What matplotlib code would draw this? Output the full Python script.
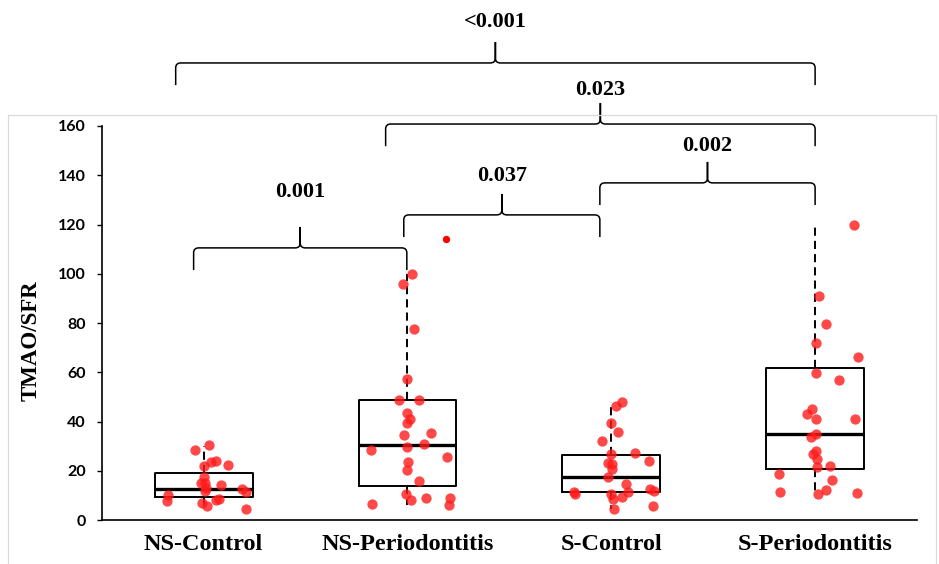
import matplotlib
matplotlib.use("Agg")
import matplotlib.pyplot as plt
from matplotlib.path import Path
from matplotlib.patches import PathPatch, Rectangle

# categorias y estadisticos de caja
grupos = ['NS-Control', 'NS-Periodontitis', 'S-Control', 'S-Periodontitis']
bigote_inf = [4.6, 6.0, 4.6, 10.4]
q1 = [9.5, 13.8, 11.2, 20.8]
mediana = [12.7, 30.6, 17.5, 34.8]
q3 = [19.2, 48.6, 26.4, 61.9]
bigote_sup = [30.2, 100.0, 47.8, 119.8]

# puntos individuales (valor) y su desplazamiento horizontal (jitter)
ns_control = [28.4, 30.3, 21.9, 23.4, 23.8, 22.2, 17.6, 15.2, 14.9, 14.3, 11.9,
              12.5, 11.4, 10.2, 7.8, 6.9, 5.6, 8.2, 8.7, 4.6, 13.2]
ns_control_jit = [-0.04, 0.025, 0.0, 0.035, 0.06, 0.12, 0.0, -0.015, 0.005, 0.087, 0.005,
                  0.19, 0.21, -0.173, -0.178, -0.01, 0.018, 0.059, 0.075, 0.21, 0.01]

ns_perio = [99.9, 95.8, 77.6, 57.1, 48.7, 48.7, 43.3, 41.1, 39.5, 34.5, 35.2, 29.8,
            30.9, 28.4, 25.7, 23.6, 20.3, 16.0, 10.4, 8.1, 9.1, 6.4, 8.8, 6.0]
ns_perio_jit = [0.021, -0.02, 0.033, 0.0, -0.043, 0.057, 0.0, 0.011, 0.0, -0.015, 0.116, 0.0,
                0.08, -0.178, 0.195, 0.005, 0.0, 0.057, -0.008, 0.015, 0.093, -0.175, 0.211, 0.206]

s_control = [47.8, 46.2, 39.3, 35.9, 32.2, 26.7, 27.1, 24.0, 23.3, 22.7, 20.8, 17.3,
             11.5, 10.6, 14.5, 11.5, 9.2, 10.6, 8.4, 12.7, 11.9, 4.6, 5.7]
s_control_jit = [0.055, 0.021, 0.0, 0.033, -0.046, 0.0, 0.116, 0.187, -0.018, 0.003, 0.005, -0.015,
                 -0.182, -0.178, 0.07, 0.08, 0.054, 0.0, 0.006, 0.188, 0.21, 0.011, 0.204]

s_perio = [119.8, 90.8, 79.6, 71.8, 66.1, 59.8, 56.7, 45.2, 42.9, 41.1, 40.9, 34.9,
           33.8, 28.0, 26.8, 24.6, 21.7, 22.1, 18.8, 16.1, 11.5, 12.2, 10.4, 11.0]
s_perio_jit = [0.19, 0.021, 0.055, 0.003, 0.21, 0.003, 0.119, -0.015, -0.04, 0.003, 0.196, 0.003,
               -0.02, 0.003, -0.011, 0.01, 0.011, 0.074, -0.177, 0.082, -0.173, 0.055, 0.015, 0.206]

# valor atipico (NS-Periodontitis)
atipico_val = [114.1]
atipico_jit = [0.187]

# comparaciones: (x inicio, x fin, altura de la llave, altura del texto, etiqueta)
comp_x1 = [-0.137, 0.893, 0.982, 1.944, -0.049]
comp_x2 = [3.0, 3.0, 1.944, 3.0, 0.997]
comp_y = [185.6, 160.8, 123.9, 136.9, 110.5]
comp_texto_y = [202.2, 174.6, 139.7, 151.9, 133.2]
comp_label = ['<0.001', '0.023', '0.037', '0.002', '0.001']

serif = 'Liberation Serif'

fig = plt.figure(figsize=(9.39, 5.64), dpi=100)

# marco gris del area de grafico
fig.patches.append(Rectangle((8 / 939, -0.01), 0.9885, 1 - 115 / 564 + 0.01,
                             transform=fig.transFigure, fill=False,
                             edgecolor='#d9d9d9', linewidth=0.9))

ax = fig.add_axes([0.1083, 0.078, 0.8683, 0.6986])

stats = []
for i in range(4):
    stats.append({'whislo': bigote_inf[i], 'q1': q1[i], 'med': mediana[i],
                  'q3': q3[i], 'whishi': bigote_sup[i], 'label': grupos[i]})

ax.bxp(stats, positions=range(4), widths=0.48, showfliers=False, showcaps=False,
       boxprops=dict(color='black', linewidth=1.4),
       medianprops=dict(color='black', linewidth=2.4),
       whiskerprops=dict(color='black', linewidth=1.4, linestyle=(0, (4.2, 2.6))))

puntos = [ns_control, ns_perio, s_control, s_perio]
jits = [ns_control_jit, ns_perio_jit, s_control_jit, s_perio_jit]
for i in range(4):
    ax.scatter([i + j for j in jits[i]], puntos[i], s=55, color='#ff1a1a',
               alpha=0.8, linewidths=0, zorder=3)
ax.scatter([1 + j for j in atipico_jit], atipico_val, s=28, color='red',
           linewidths=0, zorder=3)

ax.set_xlim(-0.5, 3.5)
ax.set_ylim(0, 160)
ax.set_yticks(range(0, 161, 20))
ax.set_xticks(range(4))
ax.set_xticklabels(grupos, fontfamily=serif, fontweight='bold', fontsize=17.5)
ax.tick_params(axis='x', length=0, pad=10)
ax.tick_params(axis='y', length=3.6, width=1, pad=8, direction='out')
for lab in ax.get_yticklabels():
    lab.set_fontfamily('Lato')
    lab.set_fontweight('bold')
    lab.set_fontsize(11.5)
ax.spines['top'].set_visible(False)
ax.spines['right'].set_visible(False)
ax.spines['left'].set_linewidth(1.2)
ax.spines['bottom'].set_linewidth(1.2)
ax.set_ylabel('TMAO/SFR', fontfamily=serif, fontweight='bold', fontsize=16.5)
ax.yaxis.set_label_coords(-0.074, 0.456)


def llave(ax, x1, x2, y, y_texto, etiqueta):
    rx, ry = 0.025, 2.0
    bajada, pico = 9.0, 8.5
    xm = (x1 + x2) / 2
    verts = [(x1, y - bajada), (x1, y - ry), (x1, y), (x1 + rx, y),
             (xm - rx, y), (xm, y), (xm, y + ry), (xm, y + pico),
             (xm, y + ry), (xm, y), (xm + rx, y),
             (x2 - rx, y), (x2, y), (x2, y - ry), (x2, y - bajada)]
    codes = [Path.MOVETO, Path.LINETO, Path.CURVE3, Path.CURVE3,
             Path.LINETO, Path.CURVE3, Path.CURVE3, Path.LINETO,
             Path.LINETO, Path.CURVE3, Path.CURVE3,
             Path.LINETO, Path.CURVE3, Path.CURVE3, Path.LINETO]
    ax.add_patch(PathPatch(Path(verts, codes), fill=False, edgecolor='black',
                           linewidth=1.1, clip_on=False))
    ax.text(xm, y_texto, etiqueta, ha='center', va='center',
            fontfamily=serif, fontweight='bold', fontsize=16, clip_on=False)


for k in range(len(comp_label)):
    llave(ax, comp_x1[k], comp_x2[k], comp_y[k], comp_texto_y[k], comp_label[k])

plt.savefig('out.png', dpi=100)
